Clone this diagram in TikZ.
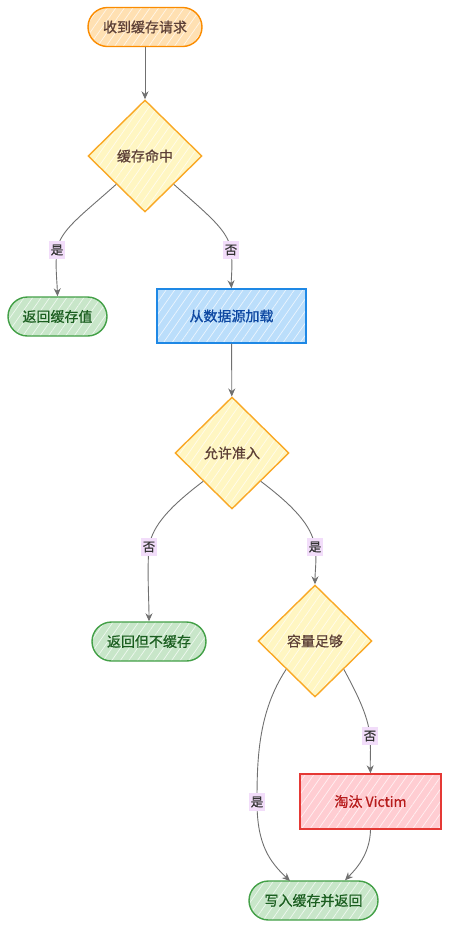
\documentclass[tikz,border=0pt]{standalone}
\usepackage{fontspec}
\setmainfont{Noto Sans CJK SC}
\newfontfamily\nodefont{Noto Sans CJK SC}[FakeBold=0.8]
\usetikzlibrary{shapes.geometric,arrows.meta,patterns.meta}
\definecolor{orfill}{HTML}{FFE0B2}
\definecolor{ordraw}{HTML}{FB8C00}
\definecolor{ylfill}{HTML}{FFF6C2}
\definecolor{yldraw}{HTML}{F9A825}
\definecolor{brtext}{HTML}{5D4037}
\definecolor{grfill}{HTML}{C8E6C9}
\definecolor{grdraw}{HTML}{43A047}
\definecolor{grtext}{HTML}{1B5E20}
\definecolor{blfill}{HTML}{BBDEFB}
\definecolor{bldraw}{HTML}{1E88E5}
\definecolor{bltext}{HTML}{0D47A1}
\definecolor{rdfill}{HTML}{FFCDD2}
\definecolor{rddraw}{HTML}{E53935}
\definecolor{rdtext}{HTML}{B71C1C}
\definecolor{edgec}{HTML}{707070}
\definecolor{lblbg}{HTML}{F2DDFA}
\tikzset{
  hatch/.style={pattern={Lines[angle=55,distance=7pt,line width=0.7pt]},pattern color=white!70!#1},
  base/.style={font=\nodefont\fontsize{14}{16}\selectfont, line width=1.4pt, inner sep=2pt},
  pill/.style={base, rectangle, rounded corners=19.5pt, minimum height=39pt, preaction={fill=#1}, hatch=#1},
  startnode/.style={pill=orfill, draw=ordraw, text=brtext, minimum width=114pt},
  endnode/.style={pill=grfill, draw=grdraw, text=grtext},
  decide/.style={base, diamond, aspect=1, minimum width=114pt, minimum height=112pt, draw=yldraw, preaction={fill=ylfill}, hatch=ylfill, text=brtext},
  procnode/.style={base, rectangle, minimum height=54pt, preaction={fill=#1}, hatch=#1},
  flow/.style={draw=edgec, line width=0.9pt, -{Stealth[length=8pt,width=7pt]}},
  lbl/.style={fill=lblbg, text=black!80, font=\nodefont\fontsize{12.5}{13}\selectfont, inner xsep=1.5pt, inner ysep=3.5pt}
}
\begin{document}
\begin{tikzpicture}[x=1pt,y=-1pt]
\useasboundingbox (0,0) rectangle (451,930);
\node[startnode] (start) at (145,27) {收到缓存请求};
\node[decide] (hit) at (145,156) {缓存命中};
\node[endnode, minimum width=99pt] (retc) at (57.5,316.5) {返回缓存值};
\node[procnode=blfill, draw=bldraw, text=bltext, minimum width=149pt] (load) at (231.5,316) {从数据源加载};
\node[decide] (admit) at (232,453) {允许准入};
\node[endnode, minimum width=114pt] (retn) at (149,641.5) {返回但不缓存};
\node[decide] (cap) at (315,641) {容量足够};
\node[procnode=rdfill, draw=rddraw, text=rdtext, minimum width=141pt, minimum height=55pt] (evict) at (370.5,801.5) {淘汰 Victim};
\node[endnode, minimum width=129pt] (write) at (313.5,900.5) {写入缓存并返回};

\draw[flow] (start) -- (hit);
\draw[flow] (hit.south west) .. controls (82,215) and (60,230) .. (57,250) node[lbl] (l1) {是} .. controls (55,265) and (57,280) .. (retc.north);
\draw[flow] (hit.south east) .. controls (208,215) and (228,230) .. (231,250) node[lbl] (l2) {否} .. controls (233,265) and (231,280) .. (load.north);
\draw[flow] (load) -- (admit);
\draw[flow] (admit.south west) .. controls (172,505) and (152,525) .. (149,547) node[lbl] (l3) {否} .. controls (147,570) and (149,600) .. (retn.north);
\draw[flow] (admit.south east) .. controls (292,505) and (312,525) .. (315,547) node[lbl] (l4) {是} .. controls (317,560) and (315,570) .. (cap.north);
\draw[flow] (cap.south west) .. controls (258,712) and (257,760) .. (257,802) node[lbl] (l5) {是} .. controls (257,845) and (270,862) .. (290,881);
\draw[flow] (cap.south east) .. controls (356,692) and (368,715) .. (370,736) node[lbl] (l6) {否} .. controls (371,750) and (370,760) .. (evict.north);
\draw[flow] (evict.south) .. controls (370,855) and (355,870) .. (write.north east -| 345,0);
\end{tikzpicture}
\end{document}
